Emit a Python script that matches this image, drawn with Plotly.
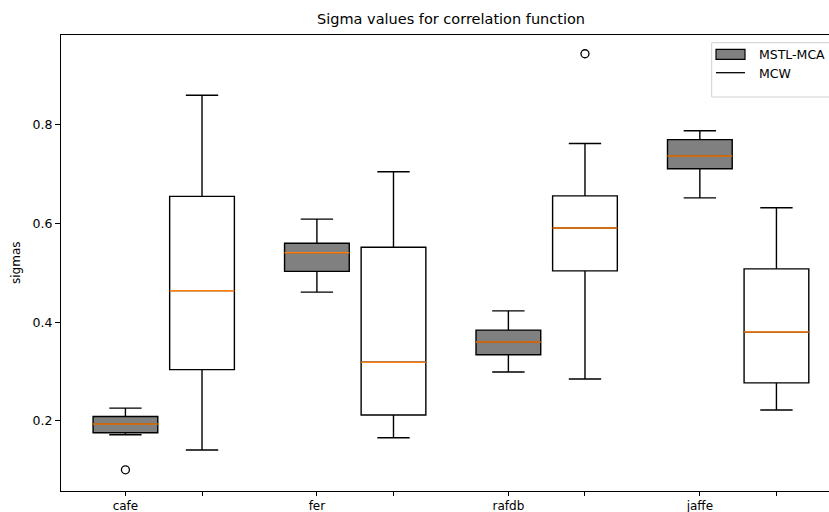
import plotly.graph_objects as go

categories = ["cafe", "fer", "rafdb", "jaffe"]

# MSTL-MCA box statistics
mstl_lower = [0.172, 0.461, 0.299, 0.652]
mstl_q1 = [0.176, 0.503, 0.334, 0.711]
mstl_median = [0.194, 0.541, 0.360, 0.737]
mstl_q3 = [0.209, 0.560, 0.384, 0.770]
mstl_upper = [0.226, 0.609, 0.423, 0.788]
mstl_outliers = {0: [0.101]}

# MCW box statistics
mcw_lower = [0.141, 0.166, 0.285, 0.222]
mcw_q1 = [0.304, 0.212, 0.504, 0.277]
mcw_median = [0.464, 0.319, 0.591, 0.380]
mcw_q3 = [0.655, 0.552, 0.656, 0.508]
mcw_upper = [0.860, 0.705, 0.762, 0.632]
mcw_outliers = {2: [0.944]}

box_w = 0.676
mstl_pos = [2 * i - 0.4 for i in range(len(categories))]
mcw_pos = [2 * i + 0.4 for i in range(len(categories))]

fig = go.Figure()

fig.add_trace(go.Box(
    x=mstl_pos, q1=mstl_q1, median=mstl_median, q3=mstl_q3,
    lowerfence=mstl_lower, upperfence=mstl_upper,
    width=box_w, whiskerwidth=0.5, boxpoints=False,
    fillcolor="#808080", line=dict(color="black", width=1.4),
    showlegend=False, hoverinfo="skip"))
fig.add_trace(go.Box(
    x=mcw_pos, q1=mcw_q1, median=mcw_median, q3=mcw_q3,
    lowerfence=mcw_lower, upperfence=mcw_upper,
    width=box_w, whiskerwidth=0.5, boxpoints=False,
    fillcolor="white", line=dict(color="black", width=1.4),
    showlegend=False, hoverinfo="skip"))

# orange median lines
for pos, med in ((mstl_pos, mstl_median), (mcw_pos, mcw_median)):
    xs, ys = [], []
    for p, m in zip(pos, med):
        xs += [p - box_w / 2, p + box_w / 2, None]
        ys += [m, m, None]
    fig.add_trace(go.Scatter(x=xs, y=ys, mode="lines",
                             line=dict(color="#ff7f0e", width=1.5),
                             showlegend=False, hoverinfo="skip"))

# outliers
ox, oy = [], []
for pos, outs in ((mstl_pos, mstl_outliers), (mcw_pos, mcw_outliers)):
    for i, vals in outs.items():
        for v in vals:
            ox.append(pos[i])
            oy.append(v)
fig.add_trace(go.Scatter(x=ox, y=oy, mode="markers",
                         marker=dict(symbol="circle-open", size=8,
                                     color="black", line=dict(width=1.3)),
                         showlegend=False, hoverinfo="skip"))

tickvals, ticktext = [], []
for i, c in enumerate(categories):
    tickvals += [mstl_pos[i], mcw_pos[i]]
    ticktext += [c, ""]

W, H = 829, 512
L, R, T, B = 61, 0, 35, 21
pw, ph = W - L - R, H - T - B


def px(x):
    return (x - L) / pw


def py(y):
    return (H - B - y) / ph


fig.update_layout(
    width=W, height=H,
    margin=dict(l=L, r=R, t=T, b=B, autoexpand=False),
    plot_bgcolor="white", paper_bgcolor="white",
    boxmode="overlay",
    font=dict(family="DejaVu Sans", size=12, color="black"),
    xaxis=dict(range=[-1.073, 6.949], tickvals=tickvals, ticktext=ticktext,
               showgrid=False, zeroline=False, showline=True, mirror=True,
               linecolor="black", linewidth=1, ticks="outside", ticklen=4,
               tickcolor="black", tickfont=dict(size=12), automargin=False),
    yaxis=dict(range=[0.058, 0.982], tickvals=[0.2, 0.4, 0.6, 0.8],
               ticktext=["0.2", "0.4", "0.6", "0.8"],
               showgrid=False, zeroline=False, showline=True, mirror=False,
               linecolor="black", linewidth=1, ticks="outside", ticklen=5,
               tickcolor="black", tickfont=dict(size=12.5), automargin=False),
)

# title and axis label
fig.add_annotation(text="Sigma values for correlation function", xref="paper", yref="paper",
                   x=px(451), y=py(19), showarrow=False, font=dict(size=14.5),
                   xanchor="center", yanchor="middle")
fig.add_annotation(text="sigmas", xref="paper", yref="paper", x=px(16), y=py(263),
                   showarrow=False, textangle=-90, font=dict(size=12),
                   xanchor="center", yanchor="middle")

# legend drawn manually
fig.add_shape(type="rect", xref="paper", yref="paper", x0=px(711.7), x1=px(845),
              y0=py(97), y1=py(42.7), line=dict(color="#d0d0d0", width=1),
              fillcolor="rgba(255,255,255,0.8)")
fig.add_shape(type="rect", xref="paper", yref="paper", x0=px(716), x1=px(745),
              y0=py(59.3), y1=py(49.3), line=dict(color="black", width=1.2),
              fillcolor="#808080")
fig.add_shape(type="line", xref="paper", yref="paper", x0=px(716), x1=px(745),
              y0=py(72.7), y1=py(72.7), line=dict(color="black", width=1.3))
fig.add_annotation(text="MSTL-MCA", xref="paper", yref="paper", x=px(756.5), y=py(54.3),
                   showarrow=False, xanchor="left", yanchor="middle", font=dict(size=12.5))
fig.add_annotation(text="MCW", xref="paper", yref="paper", x=px(756.5), y=py(73),
                   showarrow=False, xanchor="left", yanchor="middle", font=dict(size=12.5))

fig.write_html("out.html", config={"displayModeBar": False},
               post_script="document.body.style.margin='0px';document.body.style.overflow='hidden';")
